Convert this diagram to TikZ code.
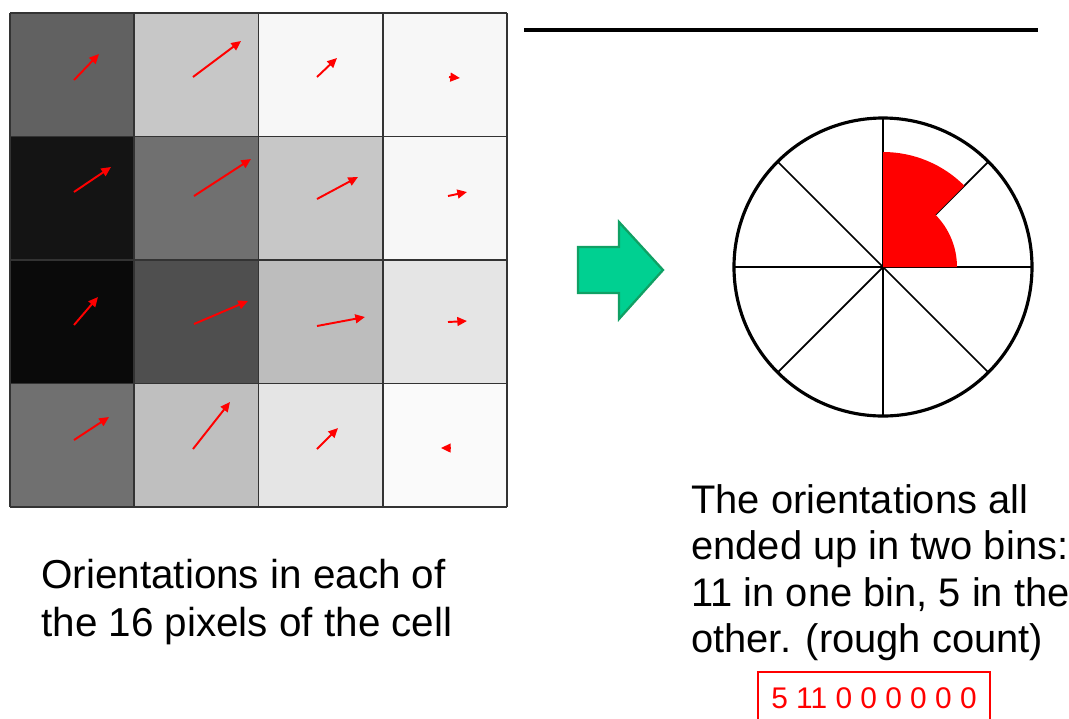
\documentclass[tikz,border=0pt]{standalone}
\usepackage{fontspec}
\setmainfont{Liberation Sans}
\usetikzlibrary{arrows.meta}
\definecolor{go}{RGB}{0,208,145}
\definecolor{godark}{RGB}{16,160,100}

\begin{document}
\begin{tikzpicture}[x=0.02cm, y=-0.02cm,
	every node/.style={font=\fontsize{22.7}{26.5}\selectfont, inner sep=0pt},
	vec/.style={red, line width=1.1pt, -{Triangle[length=5.5pt, width=5pt]}},
	cellline/.style={black!80, line width=1pt},
	spoke/.style={line width=1pt}]
	\useasboundingbox (0,0) rectangle (1069,718);
	\clip (0,0) rectangle (1069,718);
	\begin{scope}
		\foreach \y/\ga/\gb/\gc/\gd in {13/62/22/3/3, 136.5/92/56/22/3, 260/96/69/26/10, 383.5/56/25/10/2} {
			\foreach \g [count=\i from 0] in {\ga,\gb,\gc,\gd}
				\fill[black!\g] ({10+124.25*\i},\y) rectangle ++(124.25,123.5);
		}
		\foreach \p in {0,...,4} {
			\draw[cellline] ({10+124.25*\p},13) -- ({10+124.25*\p},507);
			\draw[cellline] (10,{13+123.5*\p}) -- (507,{13+123.5*\p});
		}
		\foreach \a/\b/\c/\d in {74/80/99/54, 193/77/241/41, 317/77/337/58, 449/77/460/78,
			74/192/111/167, 194/196/251/159, 317/199/358/177, 448/196/467/192,
			74/325/98/297, 194/324/248/301, 317/326/365/317, 448/322/467/321,
			74/440/109/417, 193/449/230/402, 317/449/338/428, 450/448/441/448}
			\draw[vec] (\a,\b) -- (\c,\d);
		\node[anchor=north west, align=left, font=\fontsize{23}{27}\selectfont] (pixtext) at (41,559) {Orientations in each of\\the 16 pixels of the cell};
	\end{scope}
	\draw[line width=2pt] (524,30) -- (1038,30);
	\fill[go, draw=godark, line width=1.3pt] (578,247) -- (619,247) -- (619,222) -- (663,270) -- (619,319) -- (619,293) -- (578,293) -- cycle;
	\begin{scope}[shift={(883,267)}]
		\foreach \a in {0,45,90,135}
			\draw[spoke] (\a:149) -- (\a+180:149);
		\fill[red] (0,0) -- (0:74) arc (0:-45:74) -- (-45:115) arc (-45:-90:115) -- cycle;
		\draw[line width=1.8pt] (0,0) circle (149);
	\end{scope}
	\node[anchor=north west, align=left] (bintext) at (691,484) {The orientations all\\ended up in two bins:\\11 in one bin, 5 in the\\other. (rough count)};
	\node[draw=red, text=red, line width=0.8pt, minimum width=4.64cm, minimum height=1.04cm, font=\fontsize{17}{20}\selectfont] (counts) at (874,698) {5 11 0 0 0 0 0 0};
\end{tikzpicture}
\end{document}
